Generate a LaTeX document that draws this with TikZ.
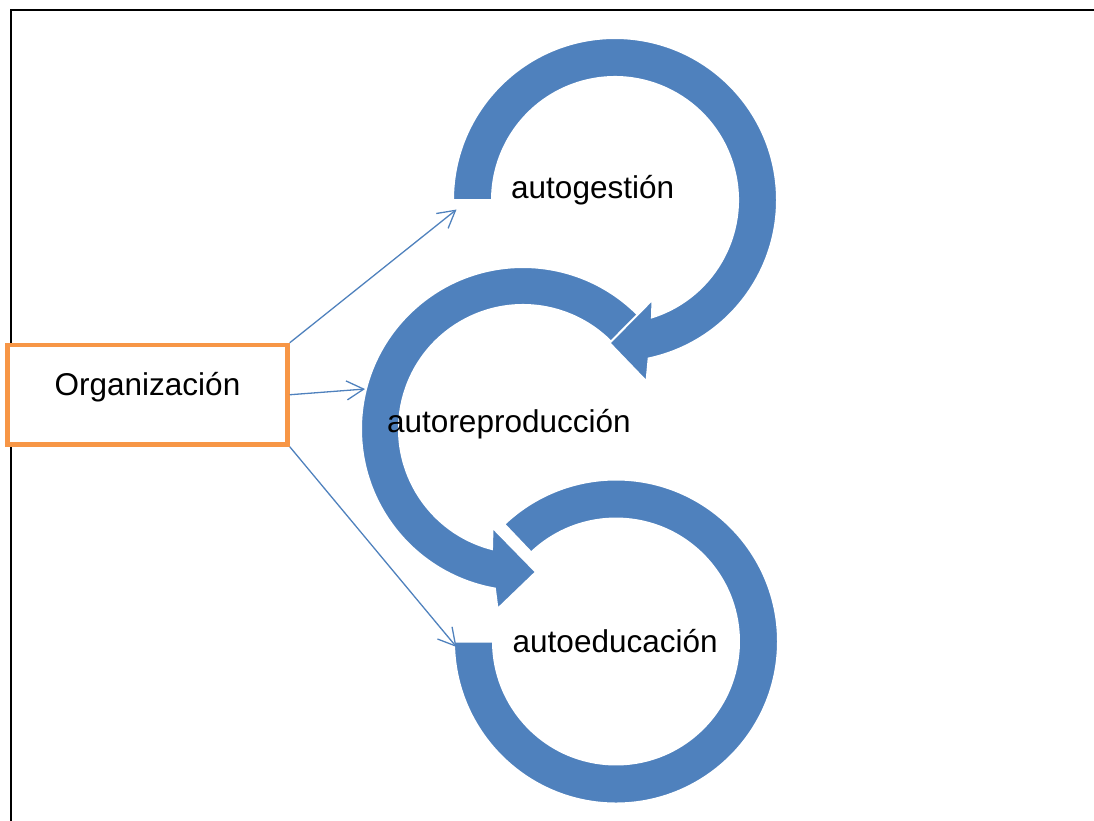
\documentclass[tikz,border=0pt]{standalone}
\usepackage{fontspec}
\setmainfont{Liberation Sans}
\usetikzlibrary{calc,arrows.meta}

\definecolor{ringblue}{HTML}{4F81BD}
\definecolor{boxorange}{HTML}{F79646}

\begin{document}
\begin{tikzpicture}[x=1pt,y=-1pt,
  frame/.style={draw=black,line width=2.5pt},
  ring/.style={fill=ringblue,draw=white,line width=2pt,line join=miter},
  orgbox/.style={draw=boxorange,line width=4.5pt,fill=white,
    minimum width=280pt,minimum height=99.5pt,inner sep=0pt,
    text height=20pt,text depth=19.5pt,
    font=\fontsize{31.5}{38}\selectfont},
  lbl/.style={anchor=base west,inner sep=0pt,font=\fontsize{31.5}{38}\selectfont},
  link/.style={draw=ringblue,line width=1.3pt,
    -{Straight Barb[length=17pt,width=19pt,line width=1.3pt]}}]

\useasboundingbox (0,0) rectangle (1094,820);

% outer frame (top and left edges)
\draw[frame] (11,821) -- (11,10) -- (1095,10);

% ring centres
\coordinate (C1) at (615,200);
\coordinate (C2) at (523,429);
\coordinate (C3) at (616,641.5);

% lower ring: plain arc band, no head
\path[ring] ($(C3)+(180:162)$) arc[start angle=180,end angle=-133.6,radius=162]
  -- ($(C3)+(-133.6:123)$) arc[start angle=-133.6,end angle=180,radius=123] -- cycle;

% middle ring: counter-clockwise band ending in a head pointing at the lower ring
\path[ring] ($(C2)+(-42:162)$) arc[start angle=-42,end angle=-260,radius=162]
  -- (497.5,609) -- (536,572) -- (492.5,527.5)
  -- ($(C2)+(-255.5:124)$) arc[start angle=-255.5,end angle=-42,radius=124] -- cycle;

% upper ring: clockwise band ending in a head pointing at the middle ring
\path[ring] ($(C1)+(180:162)$) arc[start angle=180,end angle=438,radius=162]
  -- (646.5,381.5) -- (609.5,343) -- (652.5,299.5)
  -- ($(C1)+(72.5:123)$) arc[start angle=72.5,end angle=-180,radius=123] -- cycle;

% labels
\node[lbl] (gest)  at (511,198.3) {autogestión};
\node[lbl] (repro) at (387,432.7) {autoreproducción};
\node[lbl] (edu)   at (512.5,652.7) {autoeducación};

% source box
\node[orgbox] (org) at (147.5,394.75) {Organización};

% connector targets at the start of each ring
\coordinate (toGest)  at (456.5,209.5);
\coordinate (toRepro) at (365,389);
\coordinate (toEdu)   at (456.5,647);

\draw[link] (org.north east) -- (toGest);
\draw[link] (org.east) -- (toRepro);
\draw[link] (org.south east) -- (toEdu);
\end{tikzpicture}
\end{document}
